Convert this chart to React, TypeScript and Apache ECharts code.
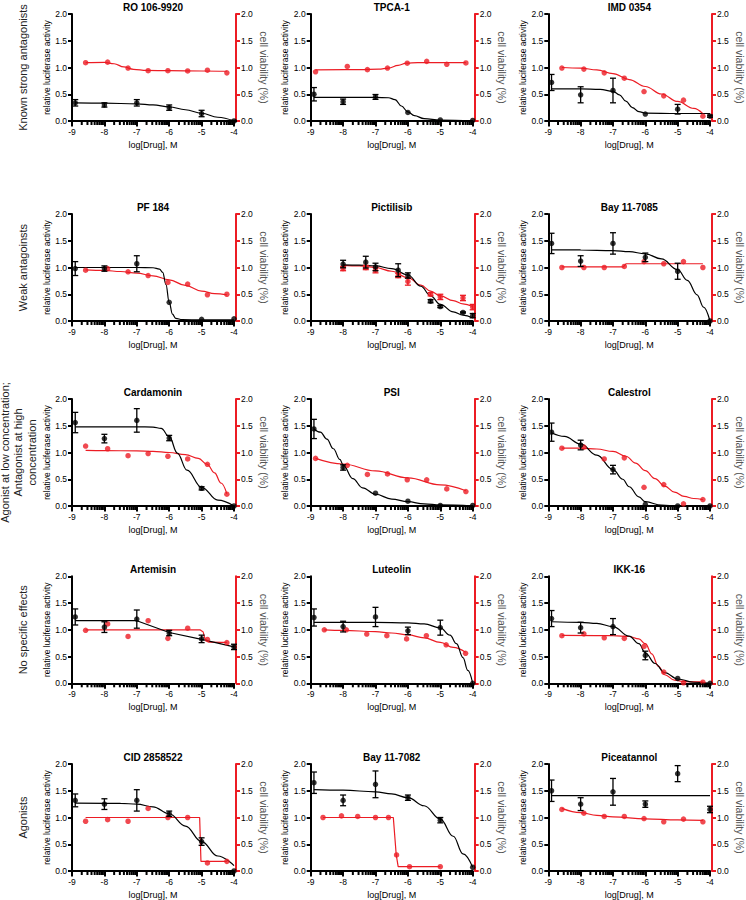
import React, { useEffect, useRef } from "react";
import * as echarts from "echarts";

const FONT = "'Liberation Sans', Arial, Helvetica, sans-serif";
const RED = "#ec1c24";

const panelTitles = ["RO 106-9920", "TPCA-1", "IMD 0354", "PF 184", "Pictilisib", "Bay 11-7085", "Cardamonin", "PSI", "Calestrol", "Artemisin", "Luteolin", "IKK-16", "CID 2858522", "Bay 11-7082", "Piceatannol"];
const rowLabels = [["Known strong antagonists"], ["Weak antagoinsts"], ["Agonist at low concentration;", "Antagonist at high", "concentration"], ["No specific effects"], ["Agonists"]];
const xTicks = [-9, -8, -7, -6, -5, -4];
const decades = [-9, -8, -7, -6, -5];
const minorTickOffsets = [0.301, 0.477, 0.602, 0.699, 0.778, 0.845, 0.903, 0.954];

// concentrations (log M)
const lucX = [-8.9, -8, -7, -6, -5, -4];
const viaX = [-8.58, -7.9, -7.27, -6.65, -6.04, -5.43, -4.82, -4.22];
const viaXEarly = [-8.85, -7.87, -7.25, -6.63, -6.02, -5.42, -4.8, -4.21];
const pictX = [-8, -7.3, -7, -6.3, -6, -5.3, -5, -4.3, -4];
const b82ViaX = [-8.62, -8.05, -7.55, -7.0, -6.6, -6.35, -5.95, -5.0];

// RO 106-9920
const roLuc = [0.34, 0.30, 0.34, 0.25, 0.14, 0.0];
const roLucErr = [0.06, 0.04, 0.06, 0.05, 0.06, 0.01];
const roLucFit = [[-8.9, 0.34], [-8, 0.335], [-7, 0.32], [-6.5, 0.3], [-6, 0.265], [-5.5, 0.21], [-5, 0.145], [-4.5, 0.07], [-4, 0.0]];
const roVia = [1.09, 1.10, 0.99, 0.94, 0.94, 0.935, 0.95, 0.90];
const roViaFit = [[-8.58, 1.09], [-8.0, 1.095], [-7.7, 1.07], [-7.4, 1.01], [-7.1, 0.965], [-6.7, 0.945], [-6, 0.94], [-5, 0.935], [-4.22, 0.93]];

// TPCA-1
const tpLuc = [0.50, 0.36, 0.45, 0.16, 0.02, 0.01];
const tpLucErr = [0.125, 0.05, 0.045, 0, 0, 0];
const tpLucFit = [[-8.9, 0.44], [-7, 0.44], [-6.6, 0.435], [-6.4, 0.4], [-6.2, 0.28], [-6.0, 0.17], [-5.8, 0.1], [-5.5, 0.045], [-5, 0.015], [-4, 0.0]];
const tpVia = [0.92, 1.02, 0.96, 0.99, 1.08, 1.115, 1.06, 1.085];
const tpViaFit = [[-8.85, 0.955], [-7.5, 0.96], [-6.9, 0.97], [-6.6, 0.99], [-6.3, 1.04], [-6.05, 1.08], [-5.7, 1.09], [-4.21, 1.09]];

// IMD 0354
const imLuc = [0.72, 0.49, 0.57, 0.13, 0.22, 0.09];
const imLucErr = [0.15, 0.15, 0.23, 0, 0.09, 0.02];
const imLucFit = [[-8.9, 0.6], [-8, 0.6], [-7.4, 0.59], [-7.0, 0.555], [-6.8, 0.49], [-6.6, 0.37], [-6.4, 0.25], [-6.2, 0.175], [-6, 0.148], [-5, 0.14], [-4, 0.14]];
const imVia = [0.99, 0.97, 0.90, 0.80, 0.55, 0.47, 0.39, 0.09];
const imViaFit = [[-8.58, 1.0], [-8, 0.99], [-7.5, 0.955], [-7, 0.885], [-6.5, 0.775], [-6, 0.645], [-5.5, 0.505], [-5, 0.365], [-4.5, 0.235], [-4.22, 0.135]];

// PF 184
const pfLuc = [0.98, 0.98, 1.07, 0.35, 0.03, 0.04];
const pfLucErr = [0.13, 0.05, 0.15, 0, 0, 0];
const pfLucFit = [[-8.9, 1.0], [-7, 1.0], [-6.5, 0.995], [-6.3, 0.97], [-6.2, 0.91], [-6.1, 0.68], [-6.0, 0.35], [-5.9, 0.13], [-5.8, 0.05], [-5.6, 0.025], [-5, 0.02], [-4, 0.02]];
const pfVia = [0.95, 0.98, 0.92, 0.85, 0.72, 0.69, 0.49, 0.50];
const pfViaFit = [[-8.58, 0.955], [-8, 0.945], [-7.5, 0.925], [-7, 0.895], [-6.5, 0.845], [-6, 0.77], [-5.5, 0.665], [-5, 0.56], [-4.6, 0.51], [-4.22, 0.49]];

// Pictilisib
const piLuc = [1.065, 1.10, 1.01, 0.95, 0.85, 0.37, 0.27, 0.16, 0.10];
const piLucErr = [0.07, 0.11, 0.07, 0.12, 0.05, 0.03, 0.02, 0.01, 0.04];
const piLucFit = [[-8, 1.05], [-7.5, 1.045], [-7, 1.03], [-6.5, 0.98], [-6, 0.86], [-5.6, 0.65], [-5.3, 0.47], [-5, 0.31], [-4.6, 0.17], [-4.3, 0.11], [-4, 0.06]];
const piVia = [0.98, 1.0, 0.95, 0.85, 0.74, 0.50, 0.45, 0.43, 0.26];
const piViaErr = [0.04, 0.04, 0.05, 0.04, 0.07, 0.03, 0.05, 0.05, 0.05];
const piViaFit = [[-8, 1.04], [-7.5, 1.03], [-7, 1.0], [-6.5, 0.93], [-6, 0.81], [-5.6, 0.67], [-5.3, 0.56], [-5, 0.47], [-4.6, 0.38], [-4.3, 0.32], [-4, 0.27]];

// Bay 11-7085
const b85Luc = [1.45, 1.12, 1.45, 1.19, 0.93, 0.0];
const b85LucErr = [0.19, 0.1, 0.2, 0.08, 0.15, 0];
const b85LucFit = [[-8.9, 1.33], [-8, 1.328], [-7, 1.315], [-6.5, 1.295], [-6, 1.255], [-5.5, 1.16], [-5, 0.96], [-4.7, 0.76], [-4.4, 0.49], [-4.2, 0.26], [-4, 0.0]];
const b85Via = [1.0, 1.0, 1.0, 1.02, 1.11, 1.07, 1.11, 1.0];
const b85ViaFit = [[-8.58, 1.01], [-6.68, 1.01], [-6.6, 1.07], [-4.22, 1.07]];

// Cardamonin
const cdLuc = [1.56, 1.26, 1.60, 1.27, 0.33, 0.0];
const cdLucErr = [0.19, 0.08, 0.22, 0.05, 0.03, 0];
const cdLucFit = [[-8.9, 1.48], [-7, 1.48], [-6.5, 1.475], [-6.25, 1.45], [-6, 1.3], [-5.75, 0.99], [-5.45, 0.67], [-5, 0.35], [-4.5, 0.11], [-4, 0.0]];
const cdVia = [1.12, 1.07, 0.94, 0.98, 0.93, 0.88, 0.78, 0.22];
const cdViaFit = [[-8.58, 1.04], [-8, 1.035], [-7, 1.03], [-6.5, 1.02], [-6, 1.0], [-5.5, 0.96], [-5.1, 0.89], [-4.83, 0.78], [-4.6, 0.62], [-4.4, 0.43], [-4.22, 0.23]];

// PSI
const psLuc = [1.44, 0.72, 0.24, 0.09, 0.01, 0.01];
const psLucErr = [0.18, 0.05, 0, 0, 0, 0];
const psLucFit = [[-8.9, 1.44], [-8.7, 1.38], [-8.5, 1.25], [-8.3, 1.07], [-8.1, 0.87], [-8, 0.77], [-7.7, 0.51], [-7.4, 0.34], [-7, 0.22], [-6.5, 0.13], [-6, 0.08], [-5.5, 0.04], [-5, 0.02], [-4, 0.0]];
const psVia = [0.89, 0.76, 0.59, 0.60, 0.49, 0.49, 0.32, 0.27];
const psViaFit = [[-8.85, 0.89], [-8, 0.785], [-7, 0.655], [-6, 0.525], [-5, 0.395], [-4.21, 0.285]];

// Calestrol
const caLuc = [1.38, 1.14, 0.68, 0.03, 0.0, 0.0];
const caLucErr = [0.17, 0.09, 0.08, 0, 0, 0];
const caLucFit = [[-8.9, 1.37], [-8.5, 1.3], [-8, 1.16], [-7.5, 0.95], [-7, 0.68], [-6.7, 0.5], [-6.5, 0.36], [-6.2, 0.17], [-6, 0.08], [-5.5, 0.015], [-5, 0.0], [-4, 0.0]];
const caVia = [1.08, 1.10, 0.88, 0.90, 0.35, 0.40, 0.04, 0.12];
const caViaFit = [[-8.58, 1.08], [-8, 1.08], [-7.5, 1.065], [-7, 1.02], [-6.6, 0.93], [-6.3, 0.8], [-6, 0.66], [-5.7, 0.51], [-5.4, 0.37], [-5.1, 0.26], [-4.8, 0.18], [-4.5, 0.14], [-4.22, 0.12]];

// Artemisin
const arLuc = [1.24, 1.05, 1.20, 0.94, 0.83, 0.68];
const arLucErr = [0.15, 0.1, 0.17, 0.05, 0.07, 0.05];
const arLucFit = [[-8.9, 1.17], [-7, 1.17], [-6, 0.95], [-5, 0.82], [-4, 0.68]];
const arVia = [0.99, 1.11, 0.875, 1.17, 0.84, 1.03, 0.82, 0.76];
const arViaFit = [[-8.58, 1.0], [-5.05, 1.0], [-4.97, 0.97], [-4.88, 0.82], [-4.78, 0.77], [-4.22, 0.765]];

// Luteolin
const luLuc = [1.23, 1.06, 1.24, 0.98, 1.04, 0.0];
const luLucErr = [0.16, 0.1, 0.18, 0.07, 0.14, 0];
const luLucFit = [[-8.9, 1.14], [-7, 1.14], [-6, 1.13], [-5.5, 1.11], [-5, 1.035], [-4.7, 0.9], [-4.5, 0.74], [-4.3, 0.48], [-4.15, 0.24], [-4.0, 0.0]];
const luVia = [1.0, 1.0, 0.92, 0.89, 0.83, 0.89, 0.72, 0.56];
const luViaFit = [[-8.58, 1.0], [-8, 0.99], [-7, 0.965], [-6.5, 0.94], [-6, 0.905], [-5.5, 0.85], [-5, 0.765], [-4.6, 0.67], [-4.22, 0.58]];

// IKK-16
const ikLuc = [1.21, 1.04, 1.06, 0.52, 0.09, 0.0];
const ikLucErr = [0.15, 0.1, 0.15, 0.08, 0, 0];
const ikLucFit = [[-8.9, 1.15], [-8, 1.14], [-7.5, 1.12], [-7, 1.06], [-6.5, 0.88], [-6.2, 0.74], [-6, 0.57], [-5.7, 0.37], [-5.4, 0.2], [-5, 0.08], [-4.5, 0.02], [-4, 0.0]];
const ikVia = [0.89, 0.925, 0.85, 0.84, 0.69, 0.21, 0.01, 0.02];
const ikViaFit = [[-8.58, 0.895], [-7, 0.89], [-6.5, 0.875], [-6.2, 0.83], [-6, 0.74], [-5.8, 0.55], [-5.6, 0.32], [-5.4, 0.16], [-5.1, 0.06], [-4.8, 0.03], [-4.22, 0.025]];

// CID 2858522
const cidLuc = [1.32, 1.25, 1.32, 1.07, 0.55, 0.0];
const cidLucErr = [0.12, 0.1, 0.2, 0.05, 0.07, 0];
const cidLucFit = [[-8.9, 1.27], [-7.5, 1.265], [-7, 1.25], [-6.5, 1.2], [-6, 1.07], [-5.5, 0.84], [-5, 0.55], [-4.5, 0.28], [-4, 0.1]];
const cidVia = [0.93, 0.96, 0.93, 1.17, 1.0, 1.0, 0.15, 0.18];
const cidViaFit = [[-8.58, 1.0], [-5.06, 1.0], [-5.02, 0.18], [-4.22, 0.18]];

// Bay 11-7082
const b82Luc = [1.65, 1.32, 1.62, 1.37, 0.95, 0.07];
const b82LucErr = [0.2, 0.1, 0.25, 0.05, 0.05, 0];
const b82LucFit = [[-8.9, 1.52], [-8, 1.51], [-7, 1.48], [-6.5, 1.44], [-6, 1.37], [-5.5, 1.22], [-5, 0.97], [-4.6, 0.65], [-4.3, 0.32], [-4, 0.07]];
const b82Via = [1.0, 1.03, 1.02, 1.0, 1.0, 0.3, 0.08, 0.08];
const b82ViaFit = [[-8.62, 1.0], [-6.45, 1.0], [-6.36, 0.3], [-6.3, 0.08], [-5.0, 0.08]];

// Piceatannol
const pcLuc = [1.5, 1.25, 1.48, 1.25, 1.82, 1.15];
const pcLucErr = [0.2, 0.12, 0.25, 0.06, 0.15, 0.06];
const pcLucFit = [[-8.9, 1.41], [-4, 1.41]];
const pcVia = [1.15, 1.08, 1.02, 1.02, 0.98, 0.92, 0.97, 0.92];
const pcViaFit = [[-8.58, 1.17], [-8, 1.09], [-7.5, 1.04], [-7, 1.01], [-6, 0.975], [-5, 0.955], [-4.22, 0.945]];

type Panel = {
  lx: number[]; l: number[]; le: number[]; lf: number[][]; ls?: number;
  vx: number[]; v: number[]; ve?: number[]; vf: number[][]; vs?: number;
};

const panels: Panel[] = [
  { lx: lucX, l: roLuc, le: roLucErr, lf: roLucFit, vx: viaX, v: roVia, vf: roViaFit },
  { lx: lucX, l: tpLuc, le: tpLucErr, lf: tpLucFit, vx: viaXEarly, v: tpVia, vf: tpViaFit },
  { lx: lucX, l: imLuc, le: imLucErr, lf: imLucFit, vx: viaX, v: imVia, vf: imViaFit },
  { lx: lucX, l: pfLuc, le: pfLucErr, lf: pfLucFit, vx: viaX, v: pfVia, vf: pfViaFit },
  { lx: pictX, l: piLuc, le: piLucErr, lf: piLucFit, vx: pictX, v: piVia, ve: piViaErr, vf: piViaFit },
  { lx: lucX, l: b85Luc, le: b85LucErr, lf: b85LucFit, vx: viaX, v: b85Via, vf: b85ViaFit, vs: 0 },
  { lx: lucX, l: cdLuc, le: cdLucErr, lf: cdLucFit, vx: viaX, v: cdVia, vf: cdViaFit },
  { lx: lucX, l: psLuc, le: psLucErr, lf: psLucFit, vx: viaXEarly, v: psVia, vf: psViaFit },
  { lx: lucX, l: caLuc, le: caLucErr, lf: caLucFit, vx: viaX, v: caVia, vf: caViaFit },
  { lx: lucX, l: arLuc, le: arLucErr, lf: arLucFit, ls: 0, vx: viaX, v: arVia, vf: arViaFit },
  { lx: lucX, l: luLuc, le: luLucErr, lf: luLucFit, vx: viaX, v: luVia, vf: luViaFit },
  { lx: lucX, l: ikLuc, le: ikLucErr, lf: ikLucFit, vx: viaX, v: ikVia, vf: ikViaFit },
  { lx: lucX, l: cidLuc, le: cidLucErr, lf: cidLucFit, vx: viaX, v: cidVia, vf: cidViaFit, vs: 0 },
  { lx: lucX, l: b82Luc, le: b82LucErr, lf: b82LucFit, vx: b82ViaX, v: b82Via, vf: b82ViaFit, vs: 0 },
  { lx: lucX, l: pcLuc, le: pcLucErr, lf: pcLucFit, vx: viaX, v: pcVia, vf: pcViaFit },
];

// layout
const colLeft = [72, 310.7, 548.3];
const rowTop = [14, 214, 399, 576.3, 764];
const plotW = 162;
const plotH = 107;

function errRender(color: string) {
  return (params: any, api: any) => {
    const x = api.value(0), y = api.value(1), e = api.value(2);
    if (!e) return null;
    const p1 = api.coord([x, y + e]);
    const p2 = api.coord([x, y - e]);
    const cap = 3;
    const style = { stroke: color, lineWidth: 1.3 };
    return {
      type: "group",
      children: [
        { type: "line", shape: { x1: p1[0], y1: p1[1], x2: p2[0], y2: p2[1] }, style },
        { type: "line", shape: { x1: p1[0] - cap, y1: p1[1], x2: p1[0] + cap, y2: p1[1] }, style },
        { type: "line", shape: { x1: p2[0] - cap, y1: p2[1], x2: p2[0] + cap, y2: p2[1] }, style },
      ],
    };
  };
}

function buildOption() {
  const grid: any[] = [], xAxis: any[] = [], yAxis: any[] = [], series: any[] = [], graphic: any[] = [];

  panels.forEach((p, i) => {
    const r = Math.floor(i / 3), c = i % 3;
    grid.push({ left: colLeft[c], top: rowTop[r], width: plotW, height: plotH });
    xAxis.push({
      gridIndex: i, type: "value", min: xTicks[0], max: xTicks[xTicks.length - 1], interval: 1, position: "bottom",
      name: "log[Drug], M", nameLocation: "middle", nameGap: 19,
      nameTextStyle: { fontSize: 9, color: "#000", fontFamily: FONT },
      axisLine: { onZero: false, lineStyle: { color: "#000", width: 2 } },
      axisTick: { length: 5.5, lineStyle: { color: "#000", width: 2 } },
      axisLabel: { margin: 6, fontSize: 8.5, color: "#000", fontFamily: FONT },
      splitLine: { show: false },
    });
    yAxis.push({
      gridIndex: i, type: "value", min: 0, max: 2, interval: 0.5, position: "left",
      name: "relative luciferase activity", nameLocation: "middle", nameGap: 20,
      nameTextStyle: { fontSize: 8.5, color: "#000", fontFamily: FONT },
      axisLine: { show: true, onZero: false, lineStyle: { color: "#000", width: 2 } },
      axisTick: { show: true, length: 4, lineStyle: { color: "#000", width: 2 } },
      axisLabel: { margin: 5, fontSize: 8.5, color: "#000", fontFamily: FONT, formatter: (v: number) => v.toFixed(1) },
      splitLine: { show: false },
    });
    yAxis.push({
      gridIndex: i, type: "value", min: 0, max: 2, interval: 0.5, position: "right", offset: 2,
      name: "cell viability (%)", nameLocation: "middle", nameGap: 22, nameRotate: -90,
      nameTextStyle: { fontSize: 10.5, color: "#555", fontFamily: FONT },
      axisLine: { show: true, onZero: false, lineStyle: { color: RED, width: 2 } },
      axisTick: { show: true, length: 4, lineStyle: { color: RED, width: 2 } },
      axisLabel: { margin: 5, fontSize: 8.5, color: "#000", fontFamily: FONT, formatter: (v: number) => v.toFixed(1) },
      splitLine: { show: false },
    });
    const xi = i, yl = 2 * i, yr = 2 * i + 1;
    series.push({
      type: "line", xAxisIndex: xi, yAxisIndex: yr, data: p.vf, showSymbol: false,
      smooth: p.vs === undefined ? 0.4 : p.vs, smoothMonotone: "x",
      lineStyle: { color: RED, width: 1.2 }, silent: true, z: 2,
    });
    series.push({
      type: "line", xAxisIndex: xi, yAxisIndex: yl, data: p.lf, showSymbol: false,
      smooth: p.ls === undefined ? 0.4 : p.ls, smoothMonotone: "x",
      lineStyle: { color: "#000", width: 1.2 }, silent: true, z: 3,
    });
    if (p.ve) {
      series.push({
        type: "custom", xAxisIndex: xi, yAxisIndex: yr, renderItem: errRender(RED),
        data: p.vx.map((x, j) => [x, p.v[j], p.ve![j]]), encode: { x: 0, y: 1 }, z: 4, silent: true,
      });
    }
    series.push({
      type: "scatter", xAxisIndex: xi, yAxisIndex: yr, symbol: "circle", symbolSize: 5.5,
      data: p.vx.map((x, j) => [x, p.v[j]]), itemStyle: { color: RED }, z: 5, silent: true,
    });
    series.push({
      type: "custom", xAxisIndex: xi, yAxisIndex: yl, renderItem: errRender("#000"),
      data: p.lx.map((x, j) => [x, p.l[j], p.le[j]]), encode: { x: 0, y: 1 }, z: 6, silent: true,
    });
    series.push({
      type: "scatter", xAxisIndex: xi, yAxisIndex: yl, symbol: "circle", symbolSize: 5.5,
      data: p.lx.map((x, j) => [x, p.l[j]]), itemStyle: { color: "#000" }, z: 7, silent: true,
    });
    graphic.push({
      type: "text", x: colLeft[c] + plotW / 2, y: rowTop[r] - 7,
      style: { text: panelTitles[i], fontSize: 10, fontWeight: "bold", fill: "#000", fontFamily: FONT, align: "center", verticalAlign: "middle" },
    });
  });

  rowLabels.forEach((lines, r) => {
    const cy = rowTop[r] + plotH / 2;
    const cx = lines.length > 1 ? 18 : 22.5;
    graphic.push({
      type: "text", x: cx, y: cy, rotation: Math.PI / 2,
      style: { text: lines.join("\n"), fontSize: 11, lineHeight: 13.5, fill: "#222", fontFamily: FONT, align: "center", verticalAlign: "middle" },
    });
  });

  return {
    animation: false,
    backgroundColor: "#fff",
    textStyle: { fontFamily: FONT },
    grid, xAxis, yAxis, series, graphic,
  };
}

export default function App() {
  const ref = useRef<HTMLDivElement>(null);
  useEffect(() => {
    document.body.style.margin = "0";
    const chart = echarts.init(ref.current!, undefined, { renderer: "svg" });
    const option: any = buildOption();
    chart.setOption(option);
    // minor (log) ticks on each x axis, positioned through the axis scale
    const ticks: any[] = [];
    panels.forEach((_p, i) => {
      decades.forEach((d) => {
        minorTickOffsets.forEach((o) => {
          const pt = chart.convertToPixel({ xAxisIndex: i, yAxisIndex: 2 * i } as any, [d + o, 0]) as number[];
          if (pt && isFinite(pt[0])) {
            ticks.push({
              type: "rect", silent: true, z: 10,
              shape: { x: pt[0] - 1, y: pt[1], width: 2, height: 4 },
              style: { fill: "#000" },
            });
          }
        });
      });
    });
    chart.setOption({ graphic: [...option.graphic, ...ticks] });
    return () => chart.dispose();
  }, []);
  return <div ref={ref} style={{ width: 746, height: 900, position: "absolute", left: 0, top: 0 }} />;
}
